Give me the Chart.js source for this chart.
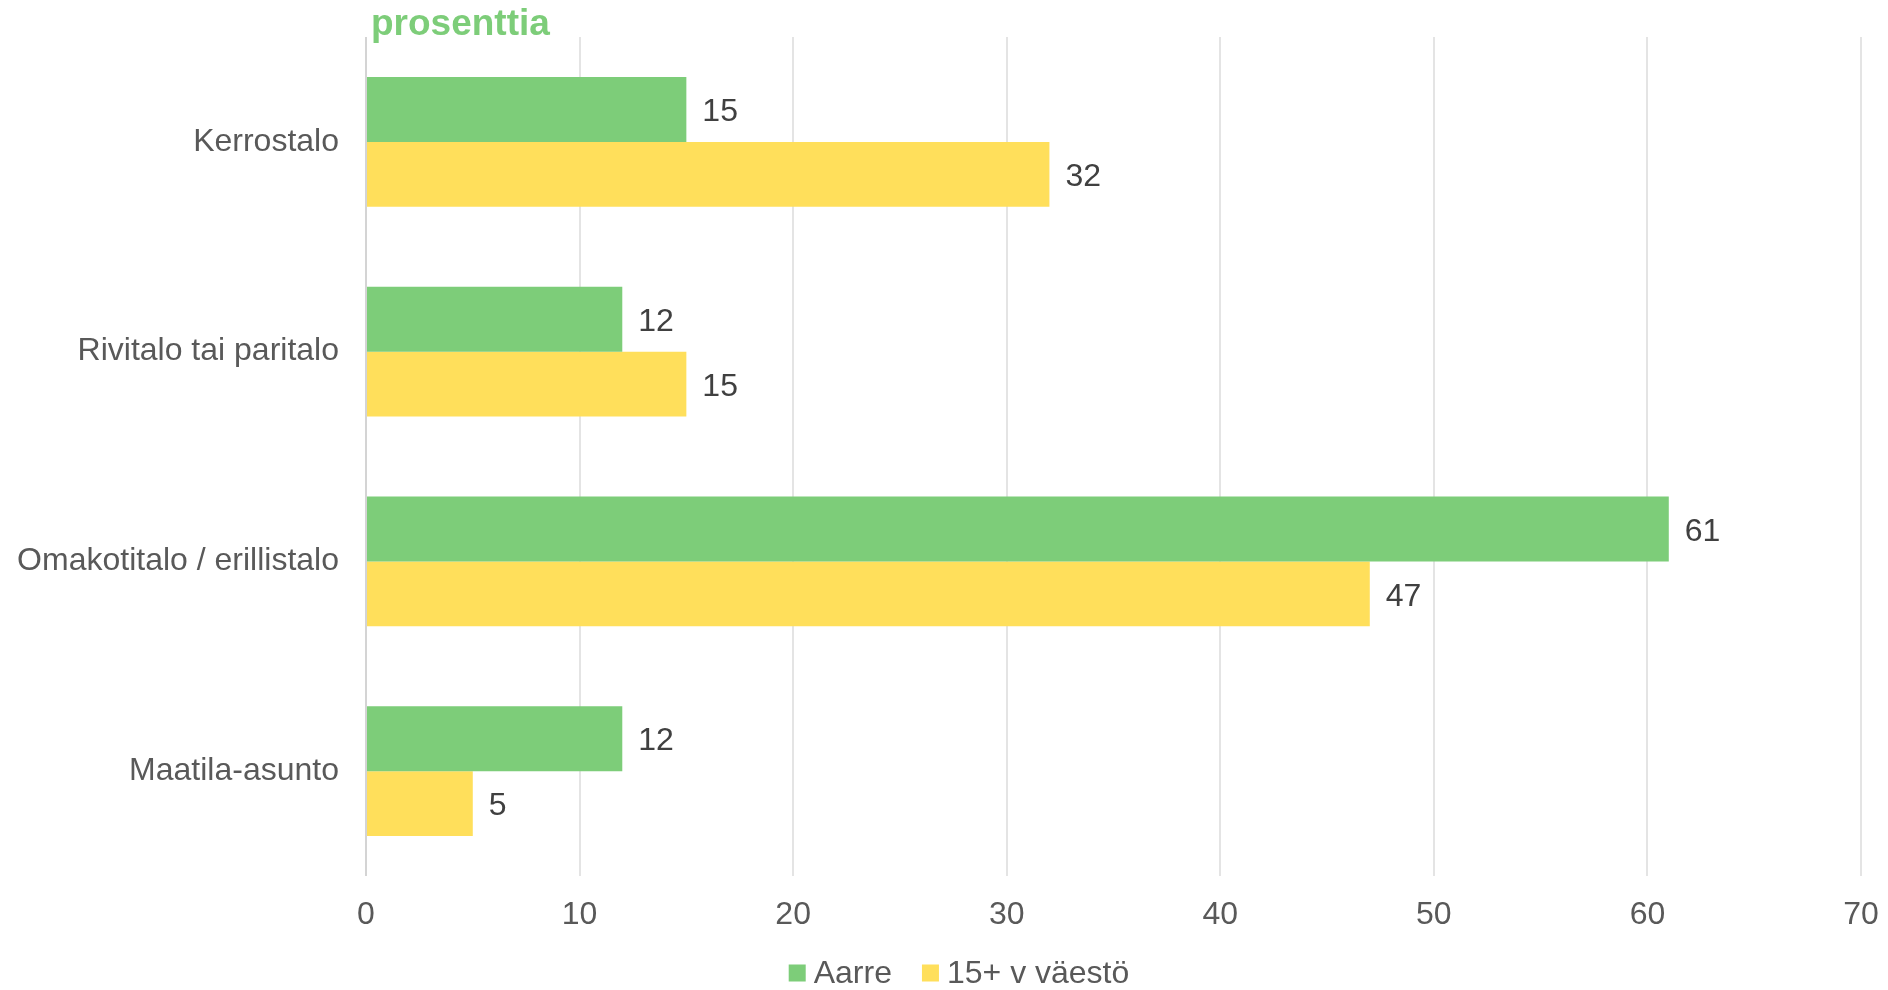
<!DOCTYPE html>
<html>
<head>
<meta charset="utf-8">
<script src="https://cdn.jsdelivr.net/npm/chart.js@4/dist/chart.umd.min.js"></script>
<style>
  html, body { margin: 0; padding: 0; background: #fff; }
  #wrap { width: 1888px; height: 990px; }
</style>
</head>
<body>
<div id="wrap"><canvas id="myChart" width="1888" height="990"></canvas></div>
<script>
// data
const categories = ["Kerrostalo", "Rivitalo tai paritalo", "Omakotitalo / erillistalo", "Maatila-asunto"];
const aarreValues = [15, 12, 61, 12];
const populationValues = [32, 15, 47, 5];
const seriesNames = ["Aarre", "15+ v väestö"];
const unitTitle = "prosenttia";

const green = "#7dcd79";
const yellow = "#ffdf5b";
const fontFamily = "'Liberation Sans', Arial, sans-serif";

// value labels right of each bar
const valueLabels = {
  id: "valueLabels",
  afterDatasetsDraw(chart) {
    const ctx = chart.ctx;
    ctx.save();
    ctx.font = "32px " + fontFamily;
    ctx.fillStyle = "#404040";
    ctx.textBaseline = "middle";
    ctx.textAlign = "left";
    chart.data.datasets.forEach((ds, i) => {
      chart.getDatasetMeta(i).data.forEach((bar, j) => {
        ctx.fillText(ds.data[j], bar.x + 16, bar.y + 3);
      });
    });
    ctx.restore();
  }
};

// unit text top-left of the plot
const unitLabel = {
  id: "unitLabel",
  afterDraw(chart) {
    const ctx = chart.ctx;
    ctx.save();
    ctx.font = "bold 37px " + fontFamily;
    ctx.fillStyle = green;
    ctx.textBaseline = "alphabetic";
    ctx.fillText(unitTitle, chart.chartArea.left + 5, 35);
    ctx.restore();
  }
};

// legend like the original: small squares, tight text
const bottomLegend = {
  id: "bottomLegend",
  afterDraw(chart) {
    const ctx = chart.ctx;
    ctx.save();
    ctx.font = "32px " + fontFamily;
    ctx.textBaseline = "middle";
    const box = 17, gap = 8, itemGap = 30;
    const items = chart.data.datasets.map(ds => ({
      text: ds.label, color: ds.backgroundColor, w: box + gap + ctx.measureText(ds.label).width
    }));
    const total = items.reduce((s, it) => s + it.w, 0) + itemGap * (items.length - 1);
    let x = chart.width / 2 + 15 - total / 2;
    const y = 973;
    items.forEach(it => {
      ctx.fillStyle = it.color;
      ctx.fillRect(x, y - box / 2, box, box);
      ctx.fillStyle = "#595959";
      ctx.fillText(it.text, x + box + gap, y + 1);
      x += it.w + itemGap;
    });
    ctx.restore();
  }
};

new Chart("myChart", {
  type: "bar",
  data: {
    labels: categories,
    datasets: [
      { label: seriesNames[0], data: aarreValues, backgroundColor: green },
      { label: seriesNames[1], data: populationValues, backgroundColor: yellow }
    ]
  },
  options: {
    indexAxis: "y",
    responsive: false,
    animation: false,
    layout: { padding: { top: 37, right: 27, left: 0, bottom: 50 } },
    datasets: {
      bar: { categoryPercentage: 0.619, barPercentage: 1.0 }
    },
    scales: {
      x: {
        min: 0,
        max: 70,
        ticks: { stepSize: 10, color: "#595959", font: { size: 32, family: fontFamily }, padding: 20 },
        grid: {
          color: ctx => ctx.index === 0 ? "#d4d4d4" : "#e4e4e4",
          lineWidth: 2,
          drawTicks: false
        },
        border: { display: false },
        afterFit(scale) {
          scale.height = 64;
          scale.paddingLeft = 0;
          scale.paddingRight = 0;
        }
      },
      y: {
        ticks: { color: "#595959", font: { size: 32, family: fontFamily }, padding: 27 },
        grid: { display: false, drawTicks: false },
        border: { display: false },
        afterFit(scale) {
          scale.width = 366;
          scale.paddingTop = 0;
          scale.paddingBottom = 0;
        }
      }
    },
    plugins: {
      legend: { display: false },
      tooltip: { enabled: false }
    }
  },
  plugins: [valueLabels, unitLabel, bottomLegend]
});
</script>
</body>
</html>
